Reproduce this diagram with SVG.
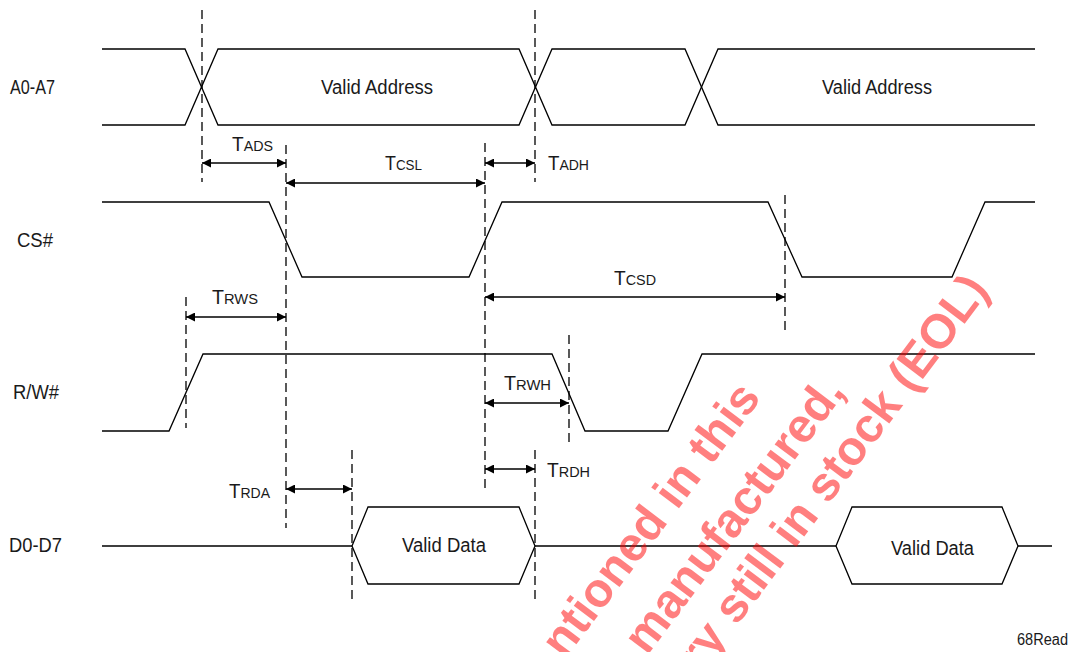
<svg xmlns="http://www.w3.org/2000/svg" width="1071" height="652" viewBox="0 0 1071 652">
<style>
.sig{fill:none;stroke:#000;stroke-width:1.3;stroke-linejoin:miter}
.dash{fill:none;stroke:#000;stroke-width:1.3;stroke-dasharray:9 5}
.dim{fill:none;stroke:#000;stroke-width:1.3;marker-start:url(#ah);marker-end:url(#ah)}
.lbl{font-family:"Liberation Sans",Arial,sans-serif;font-size:20px;fill:#1a1a1a}
.t{font-family:"Liberation Sans",Arial,sans-serif;font-size:20px;fill:#1a1a1a}
.s{font-size:15px}
.wm{font-family:"Liberation Sans",Arial,sans-serif;font-weight:bold;font-size:48px;fill:#ff0000;fill-opacity:0.5;text-anchor:end}
</style>
<defs>
<marker id="ah" viewBox="0 0 10 10" refX="10" refY="5" markerUnits="userSpaceOnUse" markerWidth="10" markerHeight="9" orient="auto-start-reverse">
<path d="M0,0 L10,5 L0,10 z" fill="#000"/>
</marker>
</defs>
<rect width="1071" height="652" fill="#fff"/>

<g id="sig-a0a7">
<text class="lbl" x="10" y="94" textLength="45" lengthAdjust="spacingAndGlyphs">A0-A7</text>
<path class="sig" d="M102,49 H185 L218,125 H519 L552,49 H685 L718,125 H1035"/>
<path class="sig" d="M102,125 H185 L218,49 H519 L552,125 H685 L718,49 H1035"/>
<text class="lbl" x="321" y="94" textLength="112" lengthAdjust="spacingAndGlyphs">Valid Address</text>
<text class="lbl" x="822" y="94" textLength="110" lengthAdjust="spacingAndGlyphs">Valid Address</text>
</g>

<g id="sig-cs">
<text class="lbl" x="17" y="247" textLength="36" lengthAdjust="spacingAndGlyphs">CS#</text>
<path class="sig" d="M102,202 H269 L302,277 H469 L502,202 H768 L802,277 H952 L985,202 H1035"/>
</g>

<g id="sig-rw">
<text class="lbl" x="13" y="399" textLength="46" lengthAdjust="spacingAndGlyphs">R/W#</text>
<path class="sig" d="M102,431 H169 L203,354 H552 L585,431 H668 L702,354 H1035"/>
</g>

<g id="sig-d">
<text class="lbl" x="9" y="552" textLength="53" lengthAdjust="spacingAndGlyphs">D0-D7</text>
<path class="sig" d="M102,546 H352 M535,546 H836 M1018,546 H1052"/>
<path class="sig" d="M352,546 L368,507 H519 L535,546 L519,584 H368 Z"/>
<path class="sig" d="M836,546 L852,507 H1002 L1018,546 L1002,584 H852 Z"/>
<text class="lbl" x="402" y="552" textLength="84" lengthAdjust="spacingAndGlyphs">Valid Data</text>
<text class="lbl" x="891" y="555" textLength="83" lengthAdjust="spacingAndGlyphs">Valid Data</text>
</g>

<g id="connectors">
<path class="dash" d="M202,10 V182"/>
<path class="dash" d="M535,10 V182"/>
<path class="dash" d="M286,145 V528"/>
<path class="dash" d="M485,143 V490"/>
<path class="dash" d="M785,195 V333"/>
<path class="dash" d="M186,297 V428"/>
<path class="dash" d="M569,335 V447"/>
<path class="dash" d="M352,450 V602"/>
<path class="dash" d="M535,450 V602"/>
<path class="dim" d="M202,163 H286"/>
<path class="dim" d="M286,183 H485"/>
<path class="dim" d="M485,163 H535"/>
<path class="dim" d="M186,317 H286"/>
<path class="dim" d="M485,297 H785"/>
<path class="dim" d="M485,403 H569"/>
<path class="dim" d="M485,469 H535"/>
<path class="dim" d="M286,489 H352"/>
</g>

<g id="timing-labels">
<text class="t" x="232" y="151" textLength="41" lengthAdjust="spacingAndGlyphs">T<tspan class="s">ADS</tspan></text>
<text class="t" x="385" y="170" textLength="37" lengthAdjust="spacingAndGlyphs">T<tspan class="s">CSL</tspan></text>
<text class="t" x="548" y="170" textLength="41" lengthAdjust="spacingAndGlyphs">T<tspan class="s">ADH</tspan></text>
<text class="t" x="212" y="304" textLength="46" lengthAdjust="spacingAndGlyphs">T<tspan class="s">RWS</tspan></text>
<text class="t" x="614" y="285" textLength="42" lengthAdjust="spacingAndGlyphs">T<tspan class="s">CSD</tspan></text>
<text class="t" x="504" y="390" textLength="47" lengthAdjust="spacingAndGlyphs">T<tspan class="s">RWH</tspan></text>
<text class="t" x="547" y="477" textLength="43" lengthAdjust="spacingAndGlyphs">T<tspan class="s">RDH</tspan></text>
<text class="t" x="229" y="498" textLength="41" lengthAdjust="spacingAndGlyphs">T<tspan class="s">RDA</tspan></text>
</g>

<text class="lbl" x="1017" y="645" style="font-size:16px" textLength="51" lengthAdjust="spacingAndGlyphs">68Read</text>

<g id="watermark">
<text class="wm" transform="translate(762,398) rotate(-53)">ntioned in this</text>
<text class="wm" transform="translate(846,392) rotate(-53)">manufactured,</text>
<text class="wm" transform="translate(990,290) rotate(-53)">ry still in stock (EOL)</text>
</g>
</svg>
